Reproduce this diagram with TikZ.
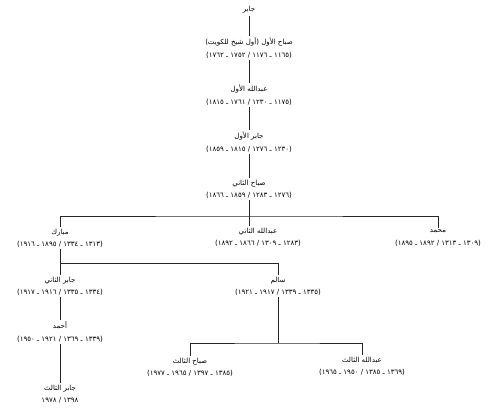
\documentclass[tikz,border=0pt]{standalone}
\usepackage{fontspec}
\newfontfamily\arabicfont[Script=Arabic]{DejaVu Sans}
\TeXXeTstate=1
\usetikzlibrary{calc}
\tikzset{
    person/.style={inner sep=1.5pt, align=center,
                   font=\arabicfont\fontsize{6}{10.5}\selectfont},
    link/.style={line width=0.6pt, draw=black!85},
}
\newcommand{\ar}[1]{\beginR #1\endR}

\begin{document}
\begin{tikzpicture}[x=0.03cm, y=-0.03cm]
    \path[use as bounding box] (0,0) rectangle (500,411);

    % main line
    \node[person] (jaber) at (249,10) {\ar{جابر}};
    \node[person] (sabah1) at (249,48)
        {\ar{صباح الأول (أول شيخ للكويت)}\\\ar{(١١٦٥ ـ ١١٧٦ / ١٧٥٢ ـ ١٧٦٢)}};
    \node[person] (abdalla1) at (249,95)
        {\ar{عبدالله الأول}\\\ar{(١١٧٥ ـ ١٢٣٠ / ١٧٦١ ـ ١٨١٥)}};
    \node[person] (jaber1) at (249,142)
        {\ar{جابر الأول}\\\ar{(١٢٣٠ ـ ١٢٧٦ / ١٨١٥ ـ ١٨٥٩)}};
    \node[person] (sabah2) at (249,189)
        {\ar{صباح الثاني}\\\ar{(١٢٧٦ ـ ١٢٨٣ / ١٨٥٩ ـ ١٨٦٦)}};

    \draw[link] (jaber) -- (sabah1);
    \draw[link] (sabah1) -- (abdalla1);
    \draw[link] (abdalla1) -- (jaber1);
    \draw[link] (jaber1) -- (sabah2);

    % sons of sabah II
    \node[person] (mubarak) at (60,238)
        {\ar{مبارك}\\\ar{(١٣١٣ ـ ١٣٣٤ / ١٨٩٥ ـ ١٩١٦)}};
    \node[person] (abdalla2) at (258,237)
        {\ar{عبدالله الثاني}\\\ar{(١٢٨٣ ـ ١٣٠٩ / ١٨٦٦ ـ ١٨٩٢)}};
    \node[person] (mohammed) at (438,238)
        {\ar{محمد}\\\ar{(١٣٠٩ ـ ١٣١٣ / ١٨٩٢ ـ ١٨٩٥)}};

    \coordinate (fork1) at (249,216);
    \draw[link] (sabah2.south) -- (fork1);
    \draw[link] (mubarak.north) |- (fork1) -| (mohammed.north);
    \draw[link] (fork1) -- (fork1 |- abdalla2.north);

    % sons of mubarak
    \node[person] (jaber2) at (60,286)
        {\ar{جابر الثاني}\\\ar{(١٣٣٤ ـ ١٣٣٥ / ١٩١٦ ـ ١٩١٧)}};
    \node[person] (salem) at (278,286)
        {\ar{سالم}\\\ar{(١٣٣٥ ـ ١٣٣٩ / ١٩١٧ ـ ١٩٢١)}};

    \coordinate (fork2) at (60,263);
    \draw[link] (mubarak.south) -- (jaber2.north);
    \draw[link] (fork2) -| (salem.north);

    \node[person] (ahmad) at (60,332)
        {\ar{أحمد}\\\ar{(١٣٣٩ ـ ١٣٦٩ / ١٩٢١ ـ ١٩٥٠)}};
    \node[person] (jaber3) at (60,394)
        {\ar{جابر الثالث}\\\ar{١٣٩٨ / ١٩٧٨}};
    \draw[link] (jaber2) -- (ahmad);
    \draw[link] (ahmad) -- (jaber3);

    % sons of salem
    \node[person] (sabah3) at (190,367)
        {\ar{صباح الثالث}\\\ar{(١٣٨٥ ـ ١٣٩٧ / ١٩٦٥ ـ ١٩٧٧)}};
    \node[person] (abdalla3) at (362,366)
        {\ar{عبدالله الثالث}\\\ar{(١٣٦٩ ـ ١٣٨٥ / ١٩٥٠ ـ ١٩٦٥)}};

    \coordinate (fork3) at (278,343);
    \draw[link] (salem.south) -- (fork3);
    \draw[link] (sabah3.north) |- (fork3) -| (abdalla3.north);
\end{tikzpicture}
\end{document}
